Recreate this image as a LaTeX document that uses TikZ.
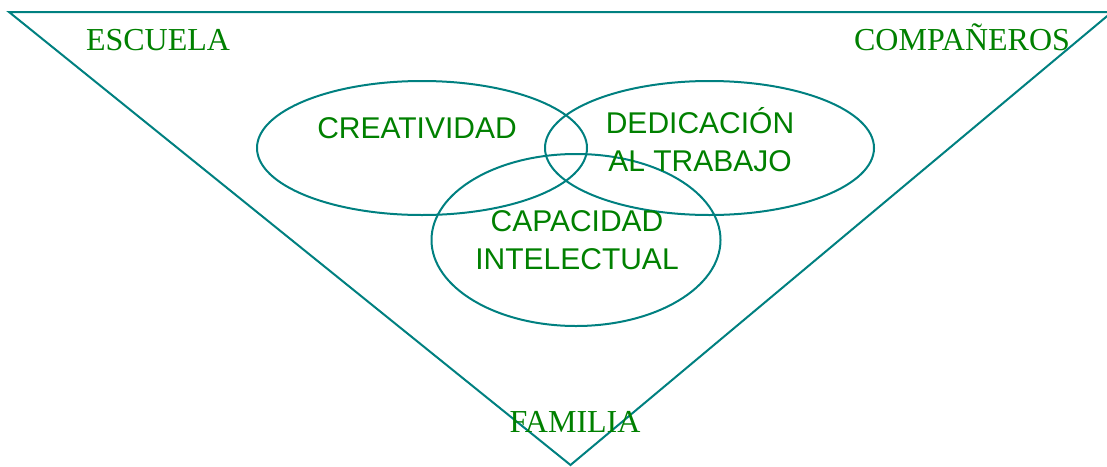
\documentclass[tikz,border=0pt]{standalone}
\usepackage{fontspec}
\setmainfont{Liberation Serif}
\newfontfamily\arialfont{Liberation Sans}
\definecolor{linecol}{HTML}{008080}
\definecolor{txtcol}{HTML}{008000}
\begin{document}
\begin{tikzpicture}[x=1pt,y=-1pt,
  edge/.style={draw=linecol,line width=2pt},
  serlabel/.style={text=txtcol,font=\fontsize{32}{38}\selectfont,anchor=base,inner sep=0pt},
  sanlabel/.style={text=txtcol,font=\arialfont\fontsize{30}{38}\selectfont,anchor=base,inner sep=0pt,align=center}]
\useasboundingbox (0,0) rectangle (1107,466);
\coordinate (tl) at (9,12);
\coordinate (tr) at (1112,12);
\coordinate (bt) at (570.5,465);
\draw[edge,line join=miter] (tl) -- (tr) -- (bt) -- cycle;
\draw[edge] (422,148) ellipse [x radius=165,y radius=67];
\draw[edge] (709.5,148) ellipse [x radius=164.5,y radius=67];
\draw[edge] (576,240) ellipse [x radius=144.5,y radius=86];
\node[serlabel] (esc) at (158,50) {ESCUELA};
\node[serlabel] (comp) at (962,50) {COMPAÑEROS};
\node[serlabel] (fam) at (575,432) {FAMILIA};
\node[sanlabel] (crea) at (417,138) {CREATIVIDAD};
\node[sanlabel] (ded) at (700,171) {DEDICACIÓN\\AL TRABAJO};
\node[sanlabel] (cap) at (577,269) {CAPACIDAD\\INTELECTUAL};
\end{tikzpicture}
\end{document}
